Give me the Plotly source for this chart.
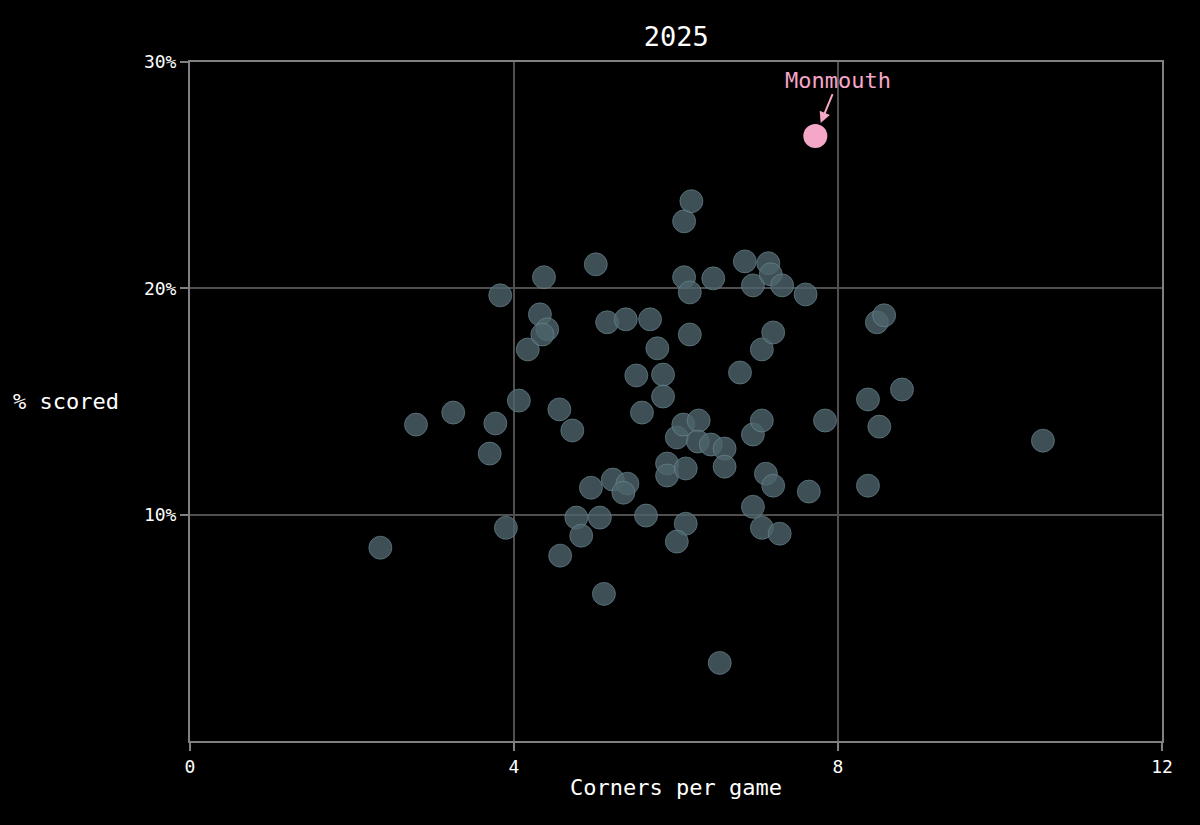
import plotly.graph_objects as go

corners = [2.35, 2.79, 3.25, 3.70, 3.77, 3.83, 3.90, 4.06, 4.17, 4.32, 4.41, 4.35, 4.37, 4.56, 4.57,
           4.72, 4.77, 4.83, 4.95, 5.01, 5.06, 5.11, 5.15, 5.22, 5.40, 5.35, 5.38, 5.51, 5.58, 5.63,
           5.68, 5.77, 5.84, 5.84, 5.89, 5.89, 6.01, 6.09, 6.10, 6.10, 6.12, 6.12, 6.01, 6.19, 6.17,
           6.17, 6.28, 6.27, 6.43, 6.46, 6.54, 6.60, 6.60, 6.79, 6.85, 6.95, 6.95, 6.95, 7.06, 7.06,
           7.06, 7.14, 7.11, 7.17, 7.20, 7.20, 7.28, 7.31, 7.60, 7.64, 7.84, 8.37, 8.37, 8.48, 8.57,
           8.79, 8.51, 10.53]
scored = [8.54, 13.98, 14.51, 12.70, 14.03, 19.69, 9.42, 15.04, 17.30, 18.85, 18.19, 17.96, 20.49, 14.65, 8.19,
          13.72, 9.87, 9.07, 11.19, 21.06, 9.87, 6.50, 18.50, 11.55, 11.37, 10.97, 18.63, 16.15, 14.51, 9.96,
          18.63, 17.35, 16.19, 15.22, 12.26, 11.73, 13.41, 13.98, 22.96, 20.49, 12.04, 9.60, 8.81, 23.85, 19.82,
          17.96, 14.16, 13.23, 13.10, 20.44, 3.45, 12.92, 12.12, 16.28, 21.19, 20.13, 13.54, 10.35, 17.30, 14.16,
          9.42, 21.11, 11.81, 20.62, 11.28, 18.05, 9.16, 20.13, 19.73, 11.02, 14.16, 15.09, 11.28, 18.50, 18.81,
          15.53, 13.89, 13.27]

highlight_name = "Monmouth"
highlight_x = [7.72]
highlight_y = [26.73]

x_ticks = [0, 4, 8, 12]
y_ticks = [10, 20, 30]

FONT = "DejaVu Sans Mono"
PINK = "#f4a7c7"

fig = go.Figure()
fig.add_trace(go.Scatter(
    x=corners, y=scored, mode="markers",
    marker=dict(size=23, color="rgba(78,100,107,0.8)",
                line=dict(color="rgba(112,142,152,0.6)", width=1)),
    hoverinfo="x+y", showlegend=False))
fig.add_trace(go.Scatter(
    x=highlight_x, y=highlight_y, mode="markers",
    marker=dict(size=24, color=PINK, line=dict(width=0)),
    name=highlight_name, showlegend=False))

fig.add_annotation(x=highlight_x[0], y=highlight_y[0], xref="x", yref="y",
                   text=highlight_name, showarrow=True, arrowhead=2, arrowsize=1.1,
                   arrowwidth=2, arrowcolor=PINK, ax=23, ay=-56, standoff=14,
                   font=dict(family=FONT, size=22, color=PINK))

fig.add_annotation(x=-0.184, y=0.5, xref="paper", yref="paper", xanchor="left",
                   text="% scored", showarrow=False,
                   font=dict(family=FONT, size=22, color="white"))

axis_common = dict(showgrid=True, gridcolor="#4f4f4f", gridwidth=1.5,
                   showline=True, linecolor="#808080", linewidth=2, mirror=True,
                   ticks="outside", tickcolor="#808080", ticklen=8, tickwidth=2,
                   zeroline=False)

fig.update_xaxes(range=[0, 12], tickmode="array", tickvals=x_ticks,
                 ticktext=[str(v) for v in x_ticks],
                 tickfont=dict(family=FONT, size=18, color="white"),
                 title=dict(text="Corners per game", font=dict(family=FONT, size=22, color="white"),
                            standoff=4),
                 **axis_common)
fig.update_yaxes(range=[0, 30], tickmode="array", tickvals=y_ticks,
                 ticktext=[f"{v}%" for v in y_ticks],
                 tickfont=dict(family=FONT, size=18, color="white"),
                 **axis_common)

fig.update_layout(
    width=1200, height=825,
    paper_bgcolor="black", plot_bgcolor="black",
    margin=dict(l=190, r=38, t=62, b=84),
    title=dict(text="2025", x=0.5635, xanchor="center", y=0.956, yanchor="middle",
               font=dict(family=FONT, size=27, color="white")),
    font=dict(family=FONT, color="white", size=18),
)

fig.write_html("out.html")
